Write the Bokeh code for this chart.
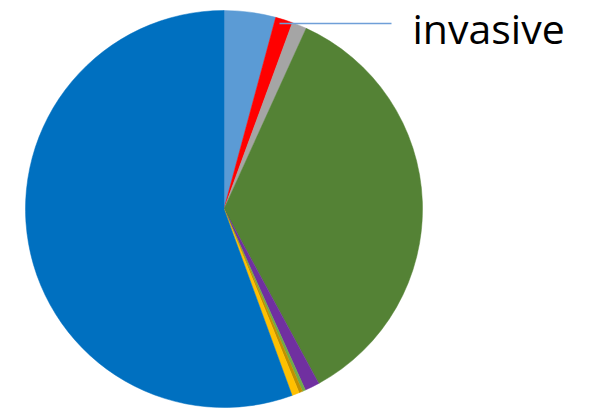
import math
from bokeh.plotting import figure
from bokeh.models import Range1d, ColumnDataSource
from bokeh.core.properties import value
from bokeh.embed import file_html
from bokeh.resources import INLINE

# slice data (clockwise from 12 o'clock)
categories = ["a", "b", "invasive", "c", "d", "e", "f", "g", "h"]
values = [4.2, 1.4, 1.2, 35.3, 1.2, 0.25, 0.3, 0.6, 55.6]
colors = ["#5B9BD5", "#FF0000", "#A5A5A5", "#548235", "#7030A0",
          "#70AD47", "#BF9000", "#FFC000", "#0070C0"]
label_text = ["invasive"]

W, H = 595, 410
cx, cy, r = 223.5, H - 208.5, 198.5

total = sum(values)
starts, ends = [], []
cum = 0.0
for v in values:
    a0 = cum / total * 2 * math.pi
    cum += v
    a1 = cum / total * 2 * math.pi
    starts.append(math.pi / 2 - a0)
    ends.append(math.pi / 2 - a1)

src = ColumnDataSource(dict(start=starts, end=ends, color=colors, cat=categories))

p = figure(width=W, height=H, output_backend="svg", toolbar_location=None,
           x_range=Range1d(0, W), y_range=Range1d(0, H), min_border=0)
p.axis.visible = False
p.grid.visible = False
p.outline_line_color = None
p.background_fill_color = "white"
p.border_fill_color = "white"

p.wedge(x=cx, y=cy, radius=r, start_angle="start", end_angle="end",
        direction="clock", fill_color="color", line_color="color",
        line_width=0.5, source=src)

# leader line to the gray slice label
p.segment(x0=[279], y0=[H - 23], x1=[391], y1=[H - 23],
          line_color="#6F9FD8", line_width=1.3)

p.text(x=[412], y=[H - 27], text=label_text, text_font=value("Open Sans"),
       text_font_size="41px", text_color="#000000",
       text_baseline="middle", text_align="left")

open("out.html", "w").write(file_html(p, INLINE))
